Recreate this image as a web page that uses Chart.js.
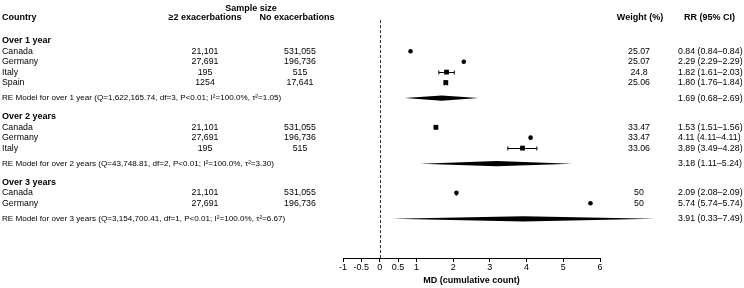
<!DOCTYPE html>
<html><head><meta charset="utf-8">
<script src="https://cdn.jsdelivr.net/npm/chart.js@4/dist/chart.umd.min.js"></script>
<style>html,body{margin:0;padding:0;background:#fff;overflow:hidden}#wrap{width:744px;height:288px;position:relative}</style>
</head><body><div id="wrap"><canvas id="c" width="744" height="288"></canvas></div>
<script>
// ---- data ----
const groupTitles = ["Over 1 year", "Over 2 years", "Over 3 years"];
const countries1 = ["Canada", "Germany", "Italy", "Spain"];
const countries2 = ["Canada", "Germany", "Italy"];
const countries3 = ["Canada", "Germany"];
const exac1 = ["21,101", "27,691", "195", "1254"];
const exac2 = ["21,101", "27,691", "195"];
const exac3 = ["21,101", "27,691"];
const none1 = ["531,055", "196,736", "515", "17,641"];
const none2 = ["531,055", "196,736", "515"];
const none3 = ["531,055", "196,736"];
const est1 = [0.84, 2.29, 1.82, 1.80];
const lo1  = [0.84, 2.29, 1.61, 1.76];
const hi1  = [0.84, 2.29, 2.03, 1.84];
const est2 = [1.53, 4.11, 3.89];
const lo2  = [1.51, 4.11, 3.49];
const hi2  = [1.56, 4.11, 4.28];
const est3 = [2.09, 5.74];
const lo3  = [2.08, 5.74];
const hi3  = [2.09, 5.74];
const weight1 = ["25.07", "25.07", "24.8", "25.06"];
const weight2 = ["33.47", "33.47", "33.06"];
const weight3 = ["50", "50"];
const reEst = [1.69, 3.18, 3.91];
const reLo  = [0.68, 1.11, 0.33];
const reHi  = [2.69, 5.24, 7.49];
const reLabels = [
  "RE Model for over 1 year (Q=1,622,165.74, df=3, P<0.01; I\u00B2=100.0%, \u03C4\u00B2=1.05)",
  "RE Model for over 2 years (Q=43,748.81, df=2, P<0.01; I\u00B2=100.0%, \u03C4\u00B2=3.30)",
  "RE Model for over 3 years (Q=3,154,700.41, df=1, P<0.01; I\u00B2=100.0%, \u03C4\u00B2=6.67)"
];
const xTicks = [-1, -0.5, 0, 0.5, 1, 2, 3, 4, 5, 6];
const xTitle = "MD (cumulative count)";

// ---- structure ----
const groups = [
  {title: groupTitles[0], c: countries1, ex: exac1, no: none1, est: est1, lo: lo1, hi: hi1, w: weight1},
  {title: groupTitles[1], c: countries2, ex: exac2, no: none2, est: est2, lo: lo2, hi: hi2, w: weight2},
  {title: groupTitles[2], c: countries3, ex: exac3, no: none3, est: est3, lo: lo3, hi: hi3, w: weight3}
];
let pos = 0;
groups.forEach((g, gi) => {
  g.titleRow = pos; pos += 1;
  g.rows = g.c.map(() => pos++);
  g.reRow = pos + 0.5;
  pos = g.reRow + 1.8;
});

const fmt = v => v.toFixed(2);
const rr = (e, l, h) => `${fmt(e)} (${fmt(l)}\u2013${fmt(h)})`;

const FONT = '"Liberation Sans", Arial, Helvetica, sans-serif';

const pts = [];
groups.forEach(g => g.est.forEach((e, i) => pts.push({x: e, y: g.rows[i], lo: g.lo[i], hi: g.hi[i]})));
const isDot = p => p && (p.hi - p.lo < 0.03);

const forestPlugin = {
  id: 'forest',
  beforeDatasetsDraw(chart) {
    const {ctx, scales: {x, y}, chartArea} = chart;
    ctx.save();
    ctx.strokeStyle = '#333';
    ctx.lineWidth = 1;
    ctx.setLineDash([3, 2]);
    const px = Math.round(x.getPixelForValue(0)) + 0.5;
    ctx.beginPath();
    ctx.moveTo(px, y.getPixelForValue(-2.0));
    ctx.lineTo(px, chartArea.bottom);
    ctx.stroke();
    ctx.restore();
  },
  afterDatasetsDraw(chart) {
    const {ctx, scales: {x, y}} = chart;
    ctx.save();
    ctx.strokeStyle = '#000';
    ctx.fillStyle = '#000';
    ctx.lineWidth = 1;
    // CI whiskers
    pts.forEach(p => {
      if (p.hi - p.lo <= 0) return;
      const yy = Math.round(y.getPixelForValue(p.y)) + 0.5;
      const xl = x.getPixelForValue(p.lo), xh = x.getPixelForValue(p.hi);
      ctx.beginPath();
      ctx.moveTo(xl, yy); ctx.lineTo(xh, yy);
      ctx.moveTo(xl, yy - 2); ctx.lineTo(xl, yy + 2);
      ctx.moveTo(xh, yy - 2); ctx.lineTo(xh, yy + 2);
      ctx.stroke();
    });
    // RE diamonds
    groups.forEach((g, gi) => {
      const yy = y.getPixelForValue(g.reRow);
      const xl = x.getPixelForValue(reLo[gi]), xe = x.getPixelForValue(reEst[gi]), xh = x.getPixelForValue(reHi[gi]);
      ctx.beginPath();
      ctx.moveTo(xl, yy); ctx.lineTo(xe, yy - 2.6); ctx.lineTo(xh, yy); ctx.lineTo(xe, yy + 2.6);
      ctx.closePath();
      ctx.fill();
    });
    ctx.restore();
  },
  afterDraw(chart) {
    const {ctx, scales: {y}} = chart;
    const Y = v => y.getPixelForValue(v);
    ctx.save();
    ctx.fillStyle = '#000';
    ctx.textBaseline = 'middle';
    const bold = `bold 9px ${FONT}`, norm = `8.8px ${FONT}`, small = `8.1px ${FONT}`;
    const t = (s, xx, yy, font, align) => { ctx.font = font; ctx.textAlign = align; ctx.fillText(s, xx, yy); };
    // headers
    const hRow = -2.2, sRow = -3.1;
    t("Sample size", 251, Y(sRow), bold, 'center');
    t("Country", 2, Y(hRow), bold, 'left');
    t("\u22652 exacerbations", 205, Y(hRow), bold, 'center');
    t("No exacerbations", 297, Y(hRow), bold, 'center');
    t("Weight (%)", 640, Y(hRow), bold, 'center');
    t("RR (95% CI)", 684, Y(hRow), bold, 'left');
    groups.forEach((g, gi) => {
      t(g.title, 2, Y(g.titleRow), bold, 'left');
      g.c.forEach((c, i) => {
        const yy = Y(g.rows[i]);
        t(c, 2, yy, norm, 'left');
        t(g.ex[i], 205, yy, norm, 'center');
        t(g.no[i], 300, yy, norm, 'center');
        t(g.w[i], 639, yy, norm, 'center');
        t(rr(g.est[i], g.lo[i], g.hi[i]), 678, yy, norm, 'left');
      });
      t(reLabels[gi], 2, Y(g.reRow), small, 'left');
      t(rr(reEst[gi], reLo[gi], reHi[gi]), 678, Y(g.reRow), norm, 'left');
    });
    ctx.restore();
  }
};

new Chart(document.getElementById('c'), {
  type: 'scatter',
  data: {
    datasets: [{
      data: pts,
      backgroundColor: '#000',
      borderColor: '#000',
      borderWidth: 0,
      pointRadius: ctx => isDot(ctx.raw) ? 2.3 : 3.4,
      pointHoverRadius: ctx => isDot(ctx.raw) ? 2.3 : 3.4,
      pointStyle: ctx => isDot(ctx.raw) ? 'circle' : 'rect',
      clip: false
    }]
  },
  options: {
    responsive: false,
    animation: false,
    events: [],
    layout: {padding: {left: 343, right: 144, top: 0, bottom: 0}},
    plugins: {legend: {display: false}, tooltip: {enabled: false}},
    scales: {
      x: {
        type: 'linear', min: -1, max: 6,
        afterBuildTicks: s => { s.ticks = xTicks.map(v => ({value: v})); },
        afterFit: s => { s.height = 30; },
        ticks: {autoSkip: false, maxRotation: 0, padding: 0, color: '#000', font: {family: FONT, size: 9},
                callback: v => String(v)},
        grid: {display: true, drawOnChartArea: false, drawTicks: true, tickLength: 4, color: '#000', lineWidth: 1},
        border: {display: true, color: '#000', width: 1},
        title: {display: true, text: xTitle, color: '#000', font: {family: FONT, size: 9, weight: 'bold'}, padding: {top: 0, bottom: 2}}
      },
      y: {
        type: 'linear', display: false, reverse: true, min: -3.6, max: 20.86
      }
    }
  },
  plugins: [forestPlugin]
});
</script></body></html>
